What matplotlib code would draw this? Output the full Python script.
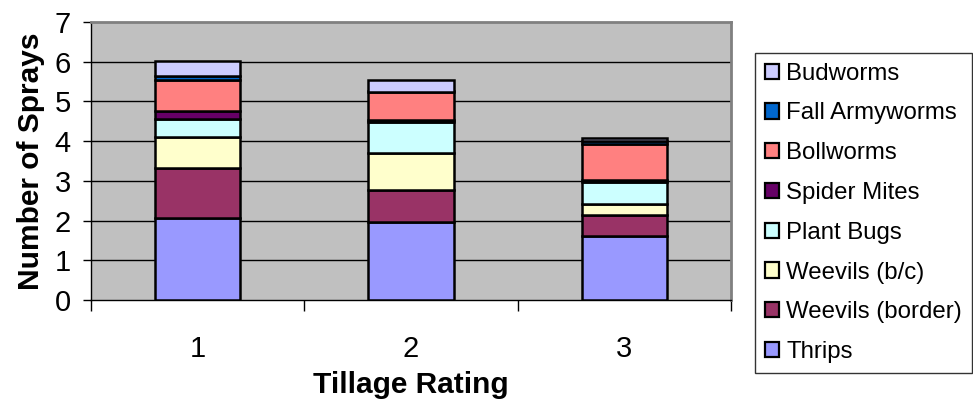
import numpy as np
import matplotlib.pyplot as plt
from matplotlib.patches import Patch

plt.rcParams['font.family'] = ['Liberation Sans', 'DejaVu Sans']

# Sprays per pest group for each tillage rating (stack order bottom -> top)
tillage = ['1', '2', '3']
pests = ['Thrips', 'Weevils (border)', 'Weevils (b/c)', 'Plant Bugs',
         'Spider Mites', 'Bollworms', 'Fall Armyworms', 'Budworms']
thrips = [2.07, 1.96, 1.60]
weevils_border = [1.26, 0.80, 0.54]
weevils_bc = [0.78, 0.95, 0.28]
plant_bugs = [0.46, 0.76, 0.54]
spider_mites = [0.18, 0.05, 0.05]
bollworms = [0.80, 0.73, 0.92]
fall_armyworms = [0.09, 0.00, 0.07]
budworms = [0.38, 0.28, 0.07]

colores = ['#9999FF', '#993366', '#FFFFCC', '#CCFFFF',
           '#660066', '#FF8080', '#0066CC', '#CCCCFF']

series = [thrips, weevils_border, weevils_bc, plant_bugs,
          spider_mites, bollworms, fall_armyworms, budworms]

fig = plt.figure(figsize=(9.73, 4.17), dpi=100)
ax = fig.add_axes([91 / 973, 1 - 300 / 417, 640 / 973, 278 / 417])
ax.set_facecolor('#C0C0C0')

x = np.arange(len(tillage)) + 0.5
base = np.zeros(len(tillage))
for vals, col in zip(series, colores):
    ax.bar(x, vals, width=0.4, bottom=base, color=col,
           edgecolor='black', linewidth=1.8, zorder=3)
    base += np.array(vals)

ax.set_xlim(0, 3)
ax.set_ylim(0, 7)
ax.set_yticks(range(8))
for y in range(1, 7):
    ax.axhline(y, color='black', linewidth=1, zorder=1)

# category boundaries as tick marks, labels centred between them
ax.set_xticks([0, 1, 2, 3])
ax.set_xticklabels([])
ax.set_xticks(x, minor=True)
ax.set_xticklabels(tillage, minor=True)
ax.tick_params(axis='x', which='major', length=8, width=1, direction='out')
ax.tick_params(axis='x', which='minor', length=0, pad=25, labelsize=21)
ax.tick_params(axis='y', length=6, width=1, direction='out', pad=8.5, labelsize=21)

for s in ['left', 'bottom']:
    ax.spines[s].set_color('black')
    ax.spines[s].set_linewidth(1)
for s in ['top', 'right']:
    ax.spines[s].set_color('#808080')
    ax.spines[s].set_linewidth(2)

ax.set_xlabel('Tillage Rating', fontsize=21.5, fontweight='bold', labelpad=6)
ax.set_ylabel('Number of Sprays', fontsize=21.5, fontweight='bold', labelpad=7)

handles = [Patch(facecolor=c, edgecolor='black', linewidth=1.6, label=p)
           for p, c in zip(pests, colores)][::-1]
leg = fig.legend(handles=handles, loc='upper left',
                 bbox_to_anchor=(755 / 973, 1 - 53 / 417),
                 fontsize=17.3, frameon=True, fancybox=False,
                 edgecolor='black', handlelength=0.6, handleheight=0.6,
                 handletextpad=0.3, labelspacing=0.74, borderpad=0.4,
                 borderaxespad=0)
leg.get_frame().set_linewidth(1)

fig.savefig('out.png', dpi=100)
